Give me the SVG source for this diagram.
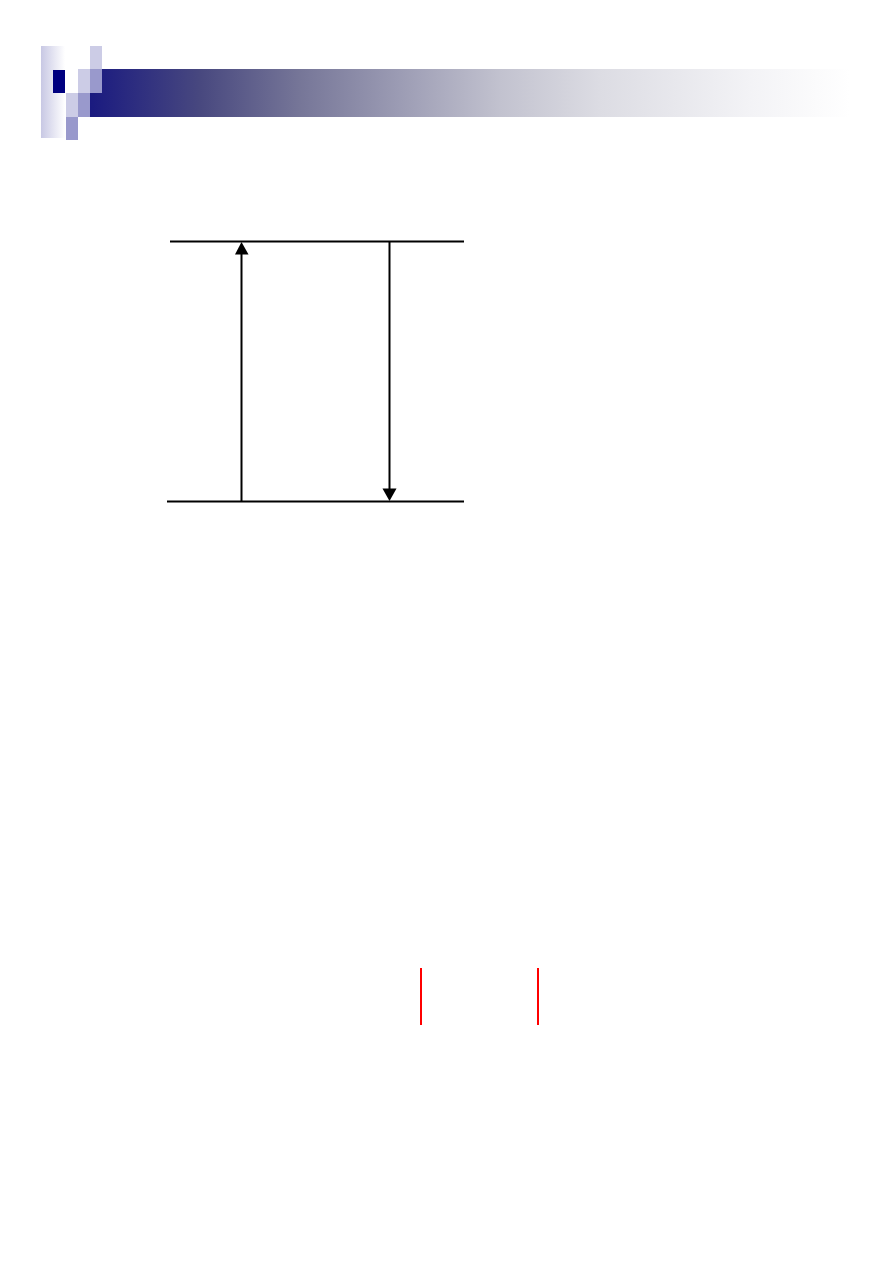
<svg xmlns="http://www.w3.org/2000/svg" width="893" height="1263" viewBox="0 0 893 1263">
<defs>
<linearGradient id="banner" gradientUnits="userSpaceOnUse" x1="90" y1="0" x2="850" y2="0">
<stop offset="0" stop-color="#1a1a80"/>
<stop offset="0.145" stop-color="#48487f"/>
<stop offset="0.276" stop-color="#767698"/>
<stop offset="0.408" stop-color="#9c9cb4"/>
<stop offset="0.54" stop-color="#c2c2cf"/>
<stop offset="0.67" stop-color="#dcdce3"/>
<stop offset="0.87" stop-color="#f3f3f6"/>
<stop offset="1" stop-color="#ffffff"/>
</linearGradient>
<linearGradient id="side" x1="0" y1="0" x2="1" y2="0">
<stop offset="0" stop-color="#c8c8e4"/>
<stop offset="1" stop-color="#ffffff"/>
</linearGradient>
<marker id="ah" viewBox="0 0 10 10" refX="10" refY="5" markerWidth="7.5" markerHeight="7.5" markerUnits="userSpaceOnUse" orient="auto">
<path d="M0,0 L10,5 L0,10 z" fill="#000"/>
</marker>
</defs>
<style>
.ln{stroke:#000;stroke-width:2;fill:none}
.arr{stroke:#000;stroke-width:2;fill:none}
.red{stroke:#ff0000;stroke-width:2}
.lt{fill:#ccccE6}
.md{fill:#9999cc}
.nv{fill:#000080}
</style>
<rect width="893" height="1263" fill="#fff"/>
<g id="header">
<rect x="90" y="69" width="760" height="48" fill="url(#banner)"/>
<rect x="41" y="46" width="24" height="92" fill="url(#side)"/>
<rect class="nv" x="53" y="70" width="12" height="23"/>
<rect class="lt" x="90" y="46" width="12" height="23"/>
<rect class="lt" x="78" y="69" width="12" height="24"/>
<rect class="md" x="90" y="69" width="12" height="24"/>
<rect class="lt" x="66" y="93" width="12" height="24"/>
<rect class="md" x="78" y="93" width="12" height="24"/>
<rect class="md" x="66" y="117" width="12" height="23"/>
</g>
<g id="levels">
<line class="ln" x1="170" y1="241.5" x2="464" y2="241.5"/>
<line class="ln" x1="167" y1="501.5" x2="464" y2="501.5"/>
</g>
<g id="connectors">
<line class="arr" x1="241.5" y1="501" x2="241.5" y2="254" />
<path d="M235,254.5 L241.5,242 L248.5,254.5 z" fill="#000"/>
<line class="arr" x1="389.5" y1="242" x2="389.5" y2="489"/>
<path d="M382.5,488.5 L389.5,501 L396.5,488.5 z" fill="#000"/>
</g>
<g id="marks">
<line class="red" x1="421" y1="968" x2="421" y2="1025"/>
<line class="red" x1="538" y1="968" x2="538" y2="1025"/>
</g>
</svg>
